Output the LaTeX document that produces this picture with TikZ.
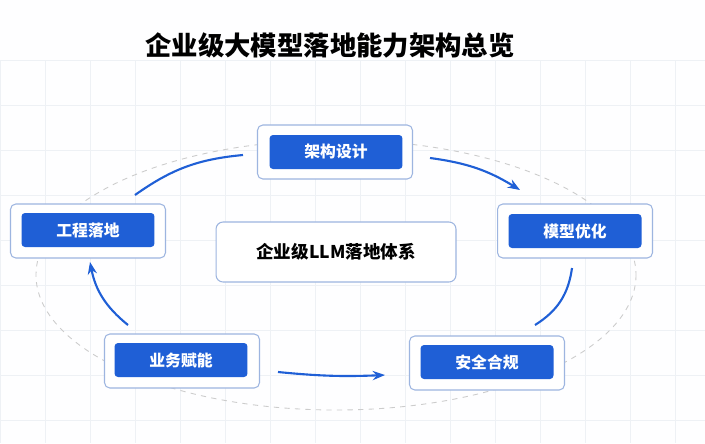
\documentclass[tikz,border=0pt]{standalone}
\usepackage{fontspec}
\setmainfont{Noto Sans CJK SC}
\usetikzlibrary{positioning, calc, arrows.meta}
\definecolor{mainblue}{HTML}{1F5FD6}
\definecolor{framecol}{HTML}{9DB5E0}
\definecolor{gridcol}{HTML}{EEF1F5}
\tikzset{
  outer/.style = {draw=framecol, fill=white, rounded corners=3pt, minimum width=3.1cm, minimum height=1.08cm, line width=0.6pt},
  stage/.style = {fill=mainblue, text=white, font=\bfseries\small, rounded corners=2pt, minimum width=2.66cm, minimum height=0.68cm},
  flow/.style  = {draw=mainblue, line width=1.2pt, -{Stealth[length=7pt]}},
  link/.style  = {draw=mainblue, line width=1.2pt}
}
\begin{document}
\begin{tikzpicture}[x=0.02cm, y=-0.02cm]
\useasboundingbox (0,0) rectangle (705,443);
\fill[white!97!gridcol] (0,0) rectangle (705,443);
\foreach \x in {0,45,...,705} \draw[gridcol, line width=0.4pt] (\x,60) -- (\x,443);
\foreach \y in {60,105,...,443} \draw[gridcol, line width=0.4pt] (0,\y) -- (705,\y);
\draw[gray!40, dashed, line width=0.5pt] (336,275) ellipse (300 and 135);

\node[font=\bfseries\fontsize{15}{18}\selectfont] (title) at (330,45) {企业级大模型落地能力架构总览};

% stages
\node[outer] (o1) at (335,152) {};
\node[stage] (s1) at (336,152) {架构设计};
\node[outer] (o2) at (575,231) {};
\node[stage] (s2) at (575,231) {模型优化};
\node[outer] (o3) at (487,363) {};
\node[stage] (s3) at (487,362) {安全合规};
\node[outer] (o4) at (182,361) {};
\node[stage] (s4) at (181,360) {业务赋能};
\node[outer] (o5) at (88,231) {};
\node[stage] (s5) at (88,230) {工程落地};

\node[draw=framecol, fill=white, rounded corners=4pt, minimum width=4.8cm, minimum height=1.2cm,
      font=\bfseries\normalsize, line width=0.6pt] (core) at (336,252) {企业级LLM落地体系};

% cycle
\coordinate (a1) at (430,158); \coordinate (b1) at (520,190);
\draw[flow] (a1) to[bend left=12] (b1);
\coordinate (a2) at (572,268); \coordinate (b2) at (535,325);
\draw[link] (a2) to[bend left=25] (b2);
\coordinate (a3) at (278,372); \coordinate (b3) at (385,375);
\draw[flow] (a3) to[bend right=4] (b3);
\coordinate (a4) at (128,325); \coordinate (b4) at (90,262);
\draw[flow] (a4) to[bend left=20] (b4);
\coordinate (a5) at (135,195); \coordinate (b5) at (243,155);
\draw[link] (a5) to[bend left=15] (b5);
\end{tikzpicture}
\end{document}
